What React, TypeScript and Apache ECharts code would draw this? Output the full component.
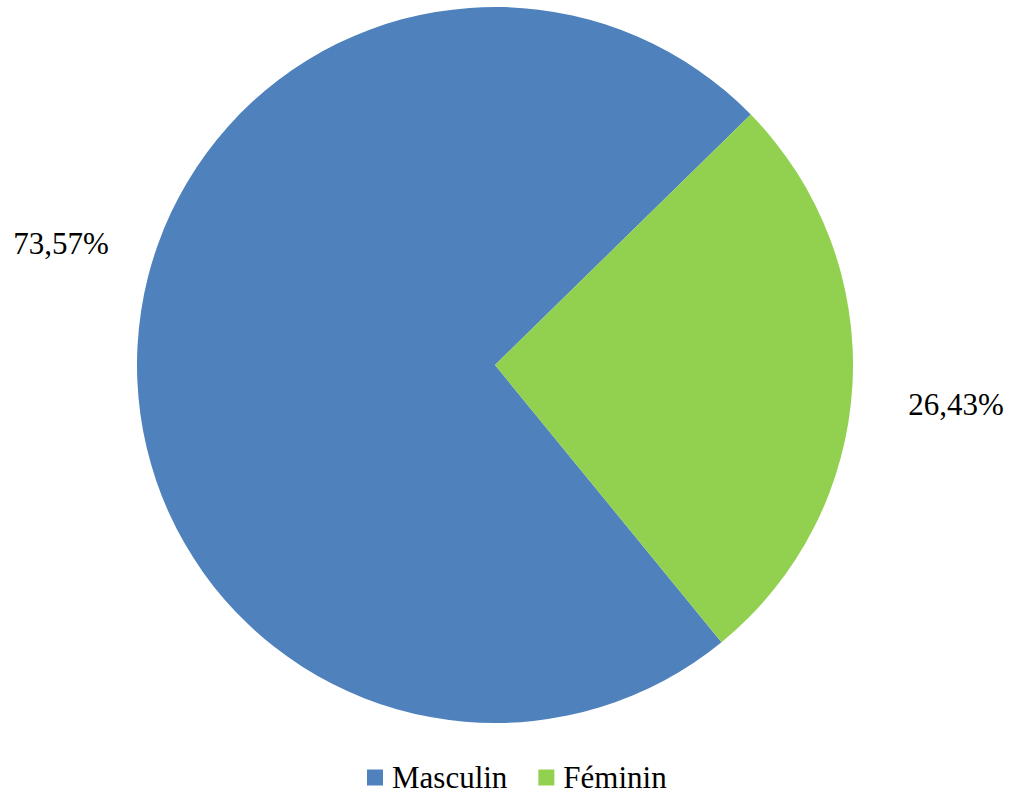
import React, { useEffect, useRef } from "react";
import * as echarts from "echarts";

const categories = ["Masculin", "Féminin"];
const values = [73.57, 26.43];
const labels = ["73,57%", "26,43%"];
const colors = ["#4F81BD", "#92D050"];
const labelPos = [
  [61, 243],
  [956, 404],
];

export default function App() {
  const ref = useRef<HTMLDivElement>(null);
  useEffect(() => {
    if (!ref.current) return;
    const chart = echarts.init(ref.current, null, { renderer: "svg" });
    const font = "'Liberation Serif', 'Times New Roman', serif";
    chart.setOption({
      animation: false,
      backgroundColor: "#ffffff",
      legend: {
        show: true,
        top: 757,
        left: 362,
        itemWidth: 16,
        itemHeight: 16,
        itemGap: 31,
        icon: "rect",
        textStyle: {
          fontFamily: font,
          fontSize: 31,
          color: "#000",
          padding: [0, 0, 0, 4],
        },
        data: categories,
      },
      series: [
        {
          type: "pie",
          center: [495, 365],
          radius: 358,
          startAngle: 309.25,
          clockwise: true,
          itemStyle: { borderWidth: 0 },
          label: {
            show: true,
            position: "outside",
            fontFamily: font,
            fontSize: 31,
            color: "#000",
            overflow: "none",
            width: 200,
            formatter: (p: any) => labels[p.dataIndex],
          },
          labelLine: { show: false },
          labelLayout: (p: any) => ({
            x: labelPos[p.dataIndex][0],
            y: labelPos[p.dataIndex][1],
            align: "center",
            verticalAlign: "middle",
          }),
          emphasis: { disabled: true },
          data: categories.map((c, i) => ({
            name: c,
            value: values[i],
            itemStyle: { color: colors[i] },
          })),
        },
      ],
    });
    return () => chart.dispose();
  }, []);
  return (
    <div
      ref={ref}
      style={{ position: "fixed", left: 0, top: 0, width: 1019, height: 794 }}
    />
  );
}
